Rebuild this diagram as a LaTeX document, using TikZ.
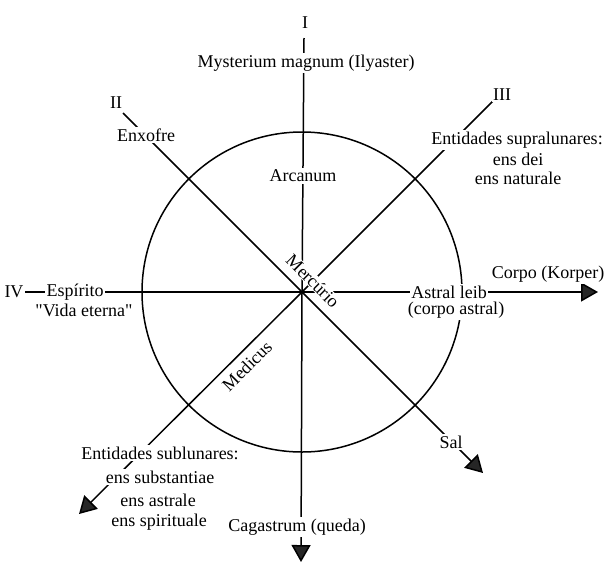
\documentclass[tikz,border=0pt]{standalone}
\usepackage{fontspec}
\setmainfont{Liberation Serif}[Ligatures=TeXOff]
\usetikzlibrary{arrows.meta}
\begin{document}
\begin{tikzpicture}[x=1pt,y=-1pt,
  lbl/.style={font=\fontsize{18}{21}\selectfont, inner sep=1.5pt, fill=white},
  ln/.style={line width=1.5pt, black},
  arr/.style={ln, -{Triangle[length=17pt,width=19pt,fill=black!85]}}]
\useasboundingbox (0,0) rectangle (609,563);
% geometry
\coordinate (O) at (302,292);
\coordinate (topI) at (304,38);
\coordinate (tipS) at (301,562);
\coordinate (leftIV) at (22,292);
\coordinate (tipE) at (598,292);
\coordinate (startII) at (123,113);
\coordinate (tipSal) at (483,473);
\coordinate (startIII) at (495,99);
\coordinate (tipSW) at (79,514);
\draw[ln] (O) circle (160pt);
\draw[arr] (topI) -- (O) -- (tipS);
\draw[arr] (leftIV) -- (O) -- (tipE);
\draw[arr] (startII) -- (O) -- (tipSal);
\draw[arr] (startIII) -- (O) -- (tipSW);
% labels
\node[lbl] (nI) at (305,23) {I};
\node[lbl] (myst) at (306,63) {Mysterium magnum (Ilyaster)};
\node[lbl] (arc) at (303,176) {Arcanum};
\node[lbl] (cag) at (297,527) {Cagastrum (queda)};
\node[lbl] (nII) at (116,103) {II};
\node[lbl] (enx) at (146,135) {Enxofre};
\node[lbl] (sal) at (451,442) {Sal};
\node[lbl] (nIII) at (502,95) {III};
\node[lbl] (sup1) at (517,140) {Entidades supralunares:};
\node[lbl] (sup2) at (518,159) {ens dei};
\node[lbl] (sup3) at (518,178) {ens naturale};
\node[lbl] (sub1) at (160,453) {Entidades sublunares:};
\node[lbl] (sub2) at (160,477) {ens substantiae};
\node[lbl] (sub3) at (158,500) {ens astrale};
\node[lbl] (sub4) at (159,522) {ens spirituale};
\node[lbl] (vida) at (84,310) {"Vida eterna"};
\node[lbl] (castral) at (456,310) {(corpo astral)};
\node[lbl] (nIV) at (14,292) {IV};
\node[lbl] (esp) at (75,292) {Espírito};
\node[lbl] (astral) at (449,292) {Astral leib};
\node[lbl, anchor=east] (corpo) at (606,274) {Corpo (Korper)};
\node[lbl, rotate=-45, inner sep=0.5pt] (merc) at (313,281) {Mercúrio};
\node[lbl, rotate=45, inner sep=0.5pt] (med) at (247,366) {Medicus};
\end{tikzpicture}
\end{document}
